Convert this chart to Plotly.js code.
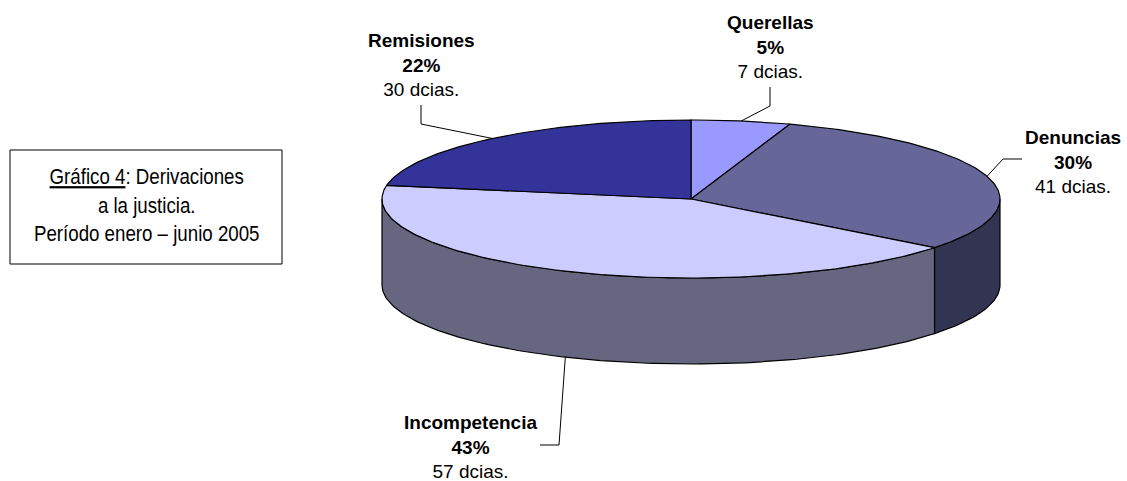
<!DOCTYPE html>
<html>
<head>
<meta charset="utf-8">
<script src="https://cdn.plot.ly/plotly-3.0.1.min.js"></script>
<style>
  html, body { margin: 0; padding: 0; background: #ffffff; }
  #chart { width: 1127px; height: 481px; }
</style>
</head>
<body>
<div id="chart"></div>
<script>
// Derivaciones a la justicia, enero – junio 2005
const categories = ['Querellas', 'Denuncias', 'Incompetencia', 'Remisiones'];
const counts = [7, 41, 57, 30];
const percentLabels = ['5%', '30%', '43%', '22%'];
const unitLabel = 'dcias.';

// Styling
const topColors = ['#9999FF', '#666699', '#CCCCFF', '#333399'];
const sideColors = ['#4D4D80', '#333352', '#666680', '#1A1A4D'];

// Pie geometry (plot units equal screen pixels)
const W = 1127, H = 481;
const cx = 691, cy = 199, rx = 309, ry = 79, depth = 86;

function pt(deg, dy) {
  const r = deg * Math.PI / 180;
  return [cx + rx * Math.sin(r), cy - ry * Math.cos(r) + dy];
}
function arc(a0, a1, dy) {
  const n = Math.max(2, Math.ceil(Math.abs(a1 - a0)));
  const out = [];
  for (let i = 0; i <= n; i++) out.push(pt(a0 + (a1 - a0) * i / n, dy));
  return out;
}

const total = counts.reduce((s, v) => s + v, 0);
const starts = [], ends = [];
let acc = 0;
counts.forEach(v => {
  starts.push(acc / total * 360);
  acc += v;
  ends.push(acc / total * 360);
});

const traces = [];
// visible outer wall: front half of the disc (90° .. 270°)
counts.forEach((v, i) => {
  const s0 = Math.max(starts[i], 90), s1 = Math.min(ends[i], 270);
  if (s0 >= s1) return;
  const pts = arc(s0, s1, 0).concat(arc(s1, s0, depth));
  pts.push(pts[0]);
  traces.push({
    type: 'scatter', mode: 'lines', fill: 'toself',
    x: pts.map(p => p[0]), y: pts.map(p => p[1]),
    fillcolor: sideColors[i], line: {color: '#000000', width: 1.2},
    hoverinfo: 'skip', showlegend: false
  });
});
// top face slices
counts.forEach((v, i) => {
  const pts = [[cx, cy]].concat(arc(starts[i], ends[i], 0));
  pts.push([cx, cy]);
  traces.push({
    type: 'scatter', mode: 'lines', fill: 'toself',
    x: pts.map(p => p[0]), y: pts.map(p => p[1]),
    fillcolor: topColors[i], line: {color: '#000000', width: 1.2},
    hoverinfo: 'skip', showlegend: false
  });
});

// label blocks and leader elbows
const labelPos = [[770, 47], [1073, 162], [470, 447], [421, 65]];
const elbows = [
  [[770, 87], [770, 106]],
  [[1022, 159], [1003, 159]],
  [[540, 445], [559, 445]],
  [[421, 105], [421, 124]]
];

const shapes = [];
const annotations = [];
counts.forEach((v, i) => {
  const mid = (starts[i] + ends[i]) / 2;
  const anchor = pt(mid, (mid > 90 && mid < 270) ? depth : 0);
  const e = elbows[i];
  shapes.push({
    type: 'path', xref: 'x', yref: 'y',
    path: `M${e[0][0]},${e[0][1]} L${e[1][0]},${e[1][1]} L${anchor[0]},${anchor[1]}`,
    line: {color: '#000000', width: 1}
  });
  annotations.push({
    xref: 'x', yref: 'y', x: labelPos[i][0], y: labelPos[i][1],
    xanchor: 'center', yanchor: 'middle', showarrow: false, align: 'center',
    text: `<b>${categories[i]}</b><br><b>${percentLabels[i]}</b><br>${v} ${unitLabel}`,
    font: {family: 'Liberation Sans, Arial, sans-serif', size: 19, color: '#000000'}
  });
});

// caption box
shapes.push({
  type: 'rect', xref: 'x', yref: 'y', x0: 10, x1: 282, y0: 150, y1: 264,
  line: {color: '#000000', width: 1}, fillcolor: 'rgba(0,0,0,0)'
});
const captionIndex = annotations.length;
annotations.push({
  xref: 'x', yref: 'y', x: 146, y: 205, xanchor: 'center', yanchor: 'middle',
  showarrow: false, align: 'center',
  text: '<u>Gráfico 4</u>: Derivaciones<br>a la justicia.<br>Período enero – junio 2005',
  font: {family: 'Liberation Sans Narrow, Arial Narrow, Liberation Sans, sans-serif', size: 22, color: '#000000'}
});

const hidden = {visible: false, fixedrange: true, showgrid: false, zeroline: false};
const layout = {
  width: W, height: H,
  margin: {l: 0, r: 0, t: 0, b: 0, pad: 0},
  paper_bgcolor: '#ffffff', plot_bgcolor: '#ffffff',
  xaxis: Object.assign({range: [0, W]}, hidden),
  yaxis: Object.assign({range: [H, 0]}, hidden),
  shapes: shapes,
  annotations: annotations,
  showlegend: false
};

Plotly.newPlot('chart', traces, layout, {staticPlot: true, displayModeBar: false}).then(gd => {
  // condense the caption horizontally (narrow face look)
  const txt = gd.querySelector(`.annotation[data-index="${captionIndex}"] text.annotation-text`);
  if (txt) {
    const b = txt.getBBox();
    const c = b.x + b.width / 2;
    txt.setAttribute('transform', `translate(${c},0) scale(0.85,1) translate(${-c},0)`);
  }
});
</script>
</body>
</html>
